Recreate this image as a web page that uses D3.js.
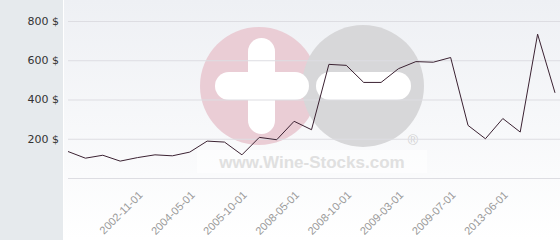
<!DOCTYPE html>
<html>
<head>
<meta charset="utf-8">
<script src="https://cdn.jsdelivr.net/npm/d3@7"></script>
<style>
  body { margin: 0; background: #fff; }
  svg { display: block; font-family: "DejaVu Sans", sans-serif; }
</style>
</head>
<body>
<svg width="560" height="240"></svg>
<script>
var prices = [135, 101, 116, 86, 104, 118, 113, 132, 188, 183, 118, 207, 195, 289, 246,
    579, 574, 487, 487, 557, 593, 590, 614, 268, 200, 303, 234, 733, 434];
var tickIndex = [4, 7, 10, 13, 16, 19, 22, 25];
var tickLabels = ["2002-11-01", "2004-05-01", "2005-10-01", "2008-05-01",
    "2008-10-01", "2009-03-01", "2009-07-01", "2013-06-01"];
var yTicks = [0, 200, 400, 600, 800];

var svg = d3.select("svg"),
    width = +svg.attr("width"),
    height = +svg.attr("height");

var plotLeft = 63, x0 = 68, x1 = 555;

var x = d3.scaleLinear().domain([0, prices.length - 1]).range([x0, x1]);
var y = d3.scaleLinear().domain([0, 800]).range([178, 21]);

// backgrounds
var defs = svg.append("defs");
var grad = defs.append("linearGradient")
    .attr("id", "bg").attr("x1", 0).attr("y1", 0).attr("x2", 0).attr("y2", 1);
grad.append("stop").attr("offset", "0%").attr("stop-color", "#eef0f4");
grad.append("stop").attr("offset", "100%").attr("stop-color", "#ffffff");

svg.append("rect").attr("width", plotLeft).attr("height", height).attr("fill", "#e6eaed");
svg.append("rect").attr("x", plotLeft + 1).attr("width", width - plotLeft - 1)
    .attr("height", height).attr("fill", "url(#bg)");

// watermark
var wm = svg.append("g");
wm.append("rect").attr("x", 197).attr("y", 150).attr("width", 230).attr("height", 23)
    .attr("fill", "#fff").attr("opacity", 0.55);
wm.append("circle").attr("cx", 259).attr("cy", 86).attr("r", 59).attr("fill", "#eacdd5");
wm.append("circle").attr("cx", 363).attr("cy", 86).attr("r", 61).attr("fill", "#d7d7d9");
wm.append("rect").attr("x", 215).attr("y", 72).attr("width", 94).attr("height", 28)
    .attr("rx", 14).attr("fill", "#fff");
wm.append("rect").attr("x", 248).attr("y", 38).attr("width", 27).attr("height", 96)
    .attr("rx", 13.5).attr("fill", "#fff");
wm.append("rect").attr("x", 316).attr("y", 72).attr("width", 95).attr("height", 28)
    .attr("rx", 14).attr("fill", "#fff");
wm.append("text").attr("x", 312).attr("y", 168).attr("text-anchor", "middle")
    .attr("font-size", 17).attr("font-weight", "bold")
    .attr("font-family", "Liberation Sans, Arial, sans-serif")
    .attr("fill", "#e0e0e0").text("www.Wine-Stocks.com");
wm.append("text").attr("x", 413).attr("y", 145).attr("text-anchor", "middle")
    .attr("font-size", 14).attr("font-family", "Liberation Sans, Arial, sans-serif")
    .attr("fill", "#d2d2d2").text("®");

// grid
svg.append("g").selectAll("line")
    .data(yTicks)
    .enter().append("line")
    .attr("x1", x0).attr("x2", width)
    .attr("y1", function (d) { return y(d) + 0.5; })
    .attr("y2", function (d) { return y(d) + 0.5; })
    .attr("stroke", "#dddde2")
    .attr("stroke-width", 1);

// y labels
svg.append("g").selectAll("text")
    .data(yTicks.filter(function (d) { return d > 0; }))
    .enter().append("text")
    .attr("x", 59)
    .attr("y", function (d) { return y(d); })
    .attr("dy", "0.35em")
    .attr("text-anchor", "end")
    .attr("font-size", 11)
    .attr("fill", "#333")
    .text(function (d) { return d + " $"; });

// x labels
svg.append("g").selectAll("text")
    .data(tickIndex)
    .enter().append("text")
    .attr("transform", function (d) {
        return "translate(" + (x(d) + 3) + ",193) rotate(-45)";
    })
    .attr("text-anchor", "end")
    .attr("dy", "0.35em")
    .attr("font-size", 11)
    .attr("font-family", "Liberation Sans, Arial, sans-serif")
    .attr("fill", "#999")
    .text(function (d, i) { return tickLabels[i]; });

// price line
var line = d3.line()
    .x(function (d, i) { return x(i); })
    .y(function (d) { return y(d); });

svg.append("path")
    .datum(prices)
    .attr("fill", "none")
    .attr("stroke", "#3b2232")
    .attr("stroke-width", 1)
    .attr("d", line);
</script>
</body>
</html>
